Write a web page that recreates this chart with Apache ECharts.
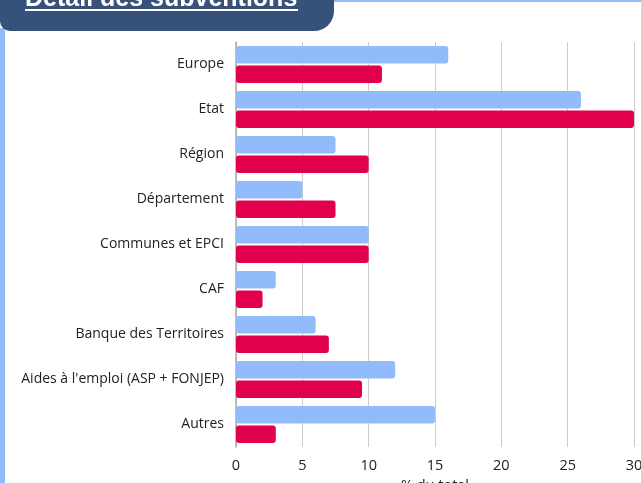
<!DOCTYPE html>
<html>
<head>
<meta charset="utf-8">
<script src="https://cdn.jsdelivr.net/npm/echarts@6/dist/echarts.min.js"></script>
<style>
  html, body { margin: 0; padding: 0; background: #ffffff; overflow: hidden; }
  #chart { width: 641px; height: 483px; }
</style>
</head>
<body>
<div id="chart"></div>
<script>
// Funding sources, top to bottom
const categories = [
  'Europe', 'Etat', 'Région', 'Département', 'Communes et EPCI',
  'CAF', 'Banque des Territoires', "Aides à l'emploi (ASP + FONJEP)", 'Autres'
];
// Share of total (%) for the two compared series
const seriesA = [16, 26, 7.5, 5, 10, 3, 6, 12, 15];
const seriesB = [11, 30, 10, 7.5, 10, 2, 7, 9.5, 3];
const xTicks = [0, 5, 10, 15, 20, 25, 30];

const chart = echarts.init(document.getElementById('chart'));

const labelFont = '"Open Sans", Lato, sans-serif';

chart.setOption({
  animation: false,
  grid: { left: 236, width: 398, top: 42, height: 405, outerBoundsMode: 'none', containLabel: false },
  xAxis: {
    type: 'value',
    min: xTicks[0],
    max: xTicks[xTicks.length - 1],
    interval: 5,
    name: '% du total',
    nameLocation: 'middle',
    nameGap: 29,
    nameTextStyle: { fontFamily: labelFont, fontSize: 14.5, color: '#222' },
    axisLine: { show: false },
    axisTick: { show: false },
    axisLabel: { fontFamily: labelFont, fontSize: 14.5, color: '#222', margin: 11 },
    splitLine: { show: true, lineStyle: { color: '#cccccc', width: 1 } }
  },
  yAxis: {
    type: 'category',
    data: categories,
    inverse: true,
    axisLine: { show: true, lineStyle: { color: '#aaaaaa', width: 1.5 } },
    axisTick: { show: false },
    axisLabel: { fontFamily: labelFont, fontSize: 14, color: '#222', margin: 12, padding: [3, 0, 0, 0] }
  },
  series: [
    {
      type: 'bar',
      data: seriesA,
      barGap: '10%',
      barCategoryGap: '18%',
      itemStyle: { color: '#91bbf9', borderRadius: 3 }
    },
    {
      type: 'bar',
      data: seriesB,
      itemStyle: { color: '#e0004e', borderRadius: 3 }
    }
  ],
  graphic: [
    // left accent stripe
    { type: 'rect', left: 0, top: 28, shape: { width: 5, height: 460 }, style: { fill: '#91bbf9' } },
    // top accent line
    { type: 'rect', left: 330, top: 0, shape: { width: 320, height: 2 }, style: { fill: '#91bbf9' } },
    // title banner
    {
      type: 'rect', left: 0, top: -20,
      shape: { width: 334, height: 51, r: [0, 0, 20, 10] },
      style: { fill: '#36527a' }
    },
    {
      type: 'text', left: 25, top: -13,
      style: {
        text: 'Détail des subventions',
        font: 'bold 25px "Liberation Sans", Arial, sans-serif',
        fill: '#ffffff'
      }
    },
    { type: 'rect', left: 25, top: 9, shape: { width: 273, height: 2 }, style: { fill: '#ffffff' } }
  ]
});
</script>
</body>
</html>
